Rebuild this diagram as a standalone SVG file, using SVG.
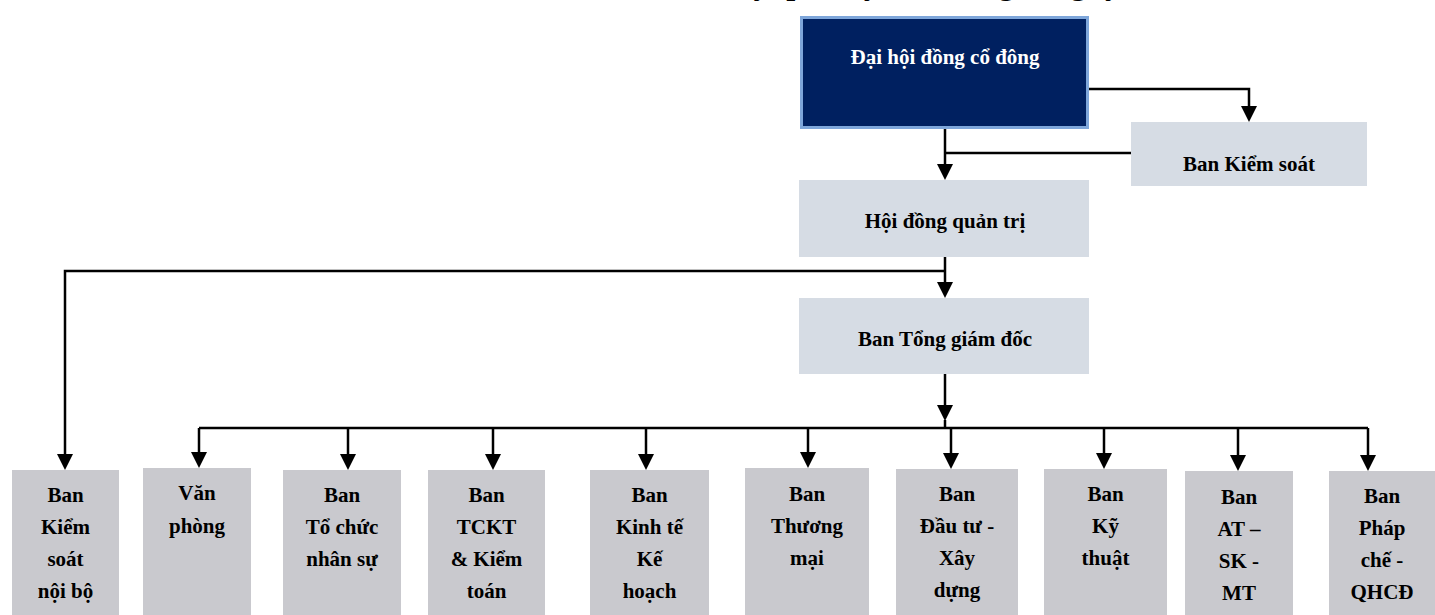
<svg xmlns="http://www.w3.org/2000/svg" width="1435" height="615" viewBox="0 0 1435 615">
<defs>
<style>
.t{font-family:"Liberation Serif","Times New Roman",serif;font-weight:bold;font-size:21px;fill:#000;text-anchor:middle}
.w{fill:#fff}
.mid{fill:#D6DCE4}
.low{fill:#C9C9CE}
.ln{fill:none;stroke:#000;stroke-width:2.5}
.ar{marker-end:url(#ah)}
</style>
<marker id="ah" viewBox="0 0 16 16" refX="0" refY="8" markerWidth="16" markerHeight="16" markerUnits="userSpaceOnUse" orient="auto">
<path d="M0,0 L16,8 L0,16 z" fill="#000"/>
</marker>
</defs>
<rect width="1435" height="615" fill="#fff"/>
<text x="1121" y="-6" font-family="'Liberation Serif','Times New Roman',serif" font-weight="bold" font-size="32" text-anchor="end">Sơ đồ tổ chức bộ máy quản lý của Tổng công ty</text>

<g id="connectors">
<path class="ln ar" d="M1088,89 H1249 V106"/>
<path class="ln ar" d="M945,128 V164"/>
<path class="ln" d="M1131,153 H945"/>
<path class="ln ar" d="M945,257 V282"/>
<path class="ln ar" d="M945,271 H65 V454"/>
<path class="ln ar" d="M945,374 V405"/>
<path class="ln" d="M945,420 V428"/>
<path class="ln" d="M199,428 H1368"/>
<path class="ln ar" d="M199,428 V452"/>
<path class="ln ar" d="M348,428 V454"/>
<path class="ln ar" d="M493,428 V454"/>
<path class="ln ar" d="M646,428 V454"/>
<path class="ln ar" d="M808,428 V452"/>
<path class="ln ar" d="M951,428 V453"/>
<path class="ln ar" d="M1104,428 V453"/>
<path class="ln ar" d="M1238,428 V455"/>
<path class="ln ar" d="M1368,428 V455"/>
</g>

<g id="dhdcd">
<rect x="801.5" y="17.5" width="286" height="110" fill="#002060" stroke="#7EA6DA" stroke-width="3"/>
<text class="t w" x="945" y="64">Đại hội đồng cổ đông</text>
</g>
<g id="bks">
<rect class="mid" x="1131" y="122" width="236" height="64"/>
<text class="t" x="1249" y="171">Ban Kiểm soát</text>
</g>
<g id="hdqt">
<rect class="mid" x="799" y="180" width="290" height="77"/>
<text class="t" x="945" y="228">Hội đồng quản trị</text>
</g>
<g id="btgd">
<rect class="mid" x="799" y="298" width="290" height="76"/>
<text class="t" x="945" y="346">Ban Tổng giám đốc</text>
</g>

<g id="ksnb">
<rect class="low" x="12" y="470" width="107" height="145"/>
<text class="t" x="65.5" y="502">Ban<tspan x="65.5" dy="32">Kiểm</tspan><tspan x="65.5" dy="32">soát</tspan><tspan x="65.5" dy="32">nội bộ</tspan></text>
</g>
<g id="vanphong">
<rect class="low" x="143" y="468" width="108" height="147"/>
<text class="t" x="197" y="500">Văn<tspan x="197" dy="33">phòng</tspan></text>
</g>
<g id="tcns">
<rect class="low" x="283" y="470" width="118" height="145"/>
<text class="t" x="342" y="502">Ban<tspan x="342" dy="32">Tổ chức</tspan><tspan x="342" dy="32">nhân sự</tspan></text>
</g>
<g id="tckt">
<rect class="low" x="428" y="470" width="117" height="145"/>
<text class="t" x="486.5" y="502">Ban<tspan x="486.5" dy="32">TCKT</tspan><tspan x="486.5" dy="32">&amp; Kiểm</tspan><tspan x="486.5" dy="32">toán</tspan></text>
</g>
<g id="ktkh">
<rect class="low" x="590" y="470" width="119" height="145"/>
<text class="t" x="649.5" y="502">Ban<tspan x="649.5" dy="32">Kinh tế</tspan><tspan x="649.5" dy="32">Kế</tspan><tspan x="649.5" dy="32">hoạch</tspan></text>
</g>
<g id="thuongmai">
<rect class="low" x="745" y="468" width="124" height="147"/>
<text class="t" x="807" y="501">Ban<tspan x="807" dy="32">Thương</tspan><tspan x="807" dy="32">mại</tspan></text>
</g>
<g id="dtxd">
<rect class="low" x="896" y="469" width="122" height="146"/>
<text class="t" x="957" y="501">Ban<tspan x="957" dy="32">Đầu tư -</tspan><tspan x="957" dy="32">Xây</tspan><tspan x="957" dy="32">dựng</tspan></text>
</g>
<g id="kythuat">
<rect class="low" x="1044" y="469" width="123" height="146"/>
<text class="t" x="1105.5" y="501">Ban<tspan x="1105.5" dy="32">Kỹ</tspan><tspan x="1105.5" dy="32">thuật</tspan></text>
</g>
<g id="atskmt">
<rect class="low" x="1185" y="471" width="108" height="144"/>
<text class="t" x="1239" y="504">Ban<tspan x="1239" dy="32">AT –</tspan><tspan x="1239" dy="32">SK -</tspan><tspan x="1239" dy="32">MT</tspan></text>
</g>
<g id="phapche">
<rect class="low" x="1329" y="471" width="106" height="144"/>
<text class="t" x="1382" y="503">Ban<tspan x="1382" dy="32">Pháp</tspan><tspan x="1382" dy="32">chế -</tspan><tspan x="1382" dy="32">QHCĐ</tspan></text>
</g>
</svg>
